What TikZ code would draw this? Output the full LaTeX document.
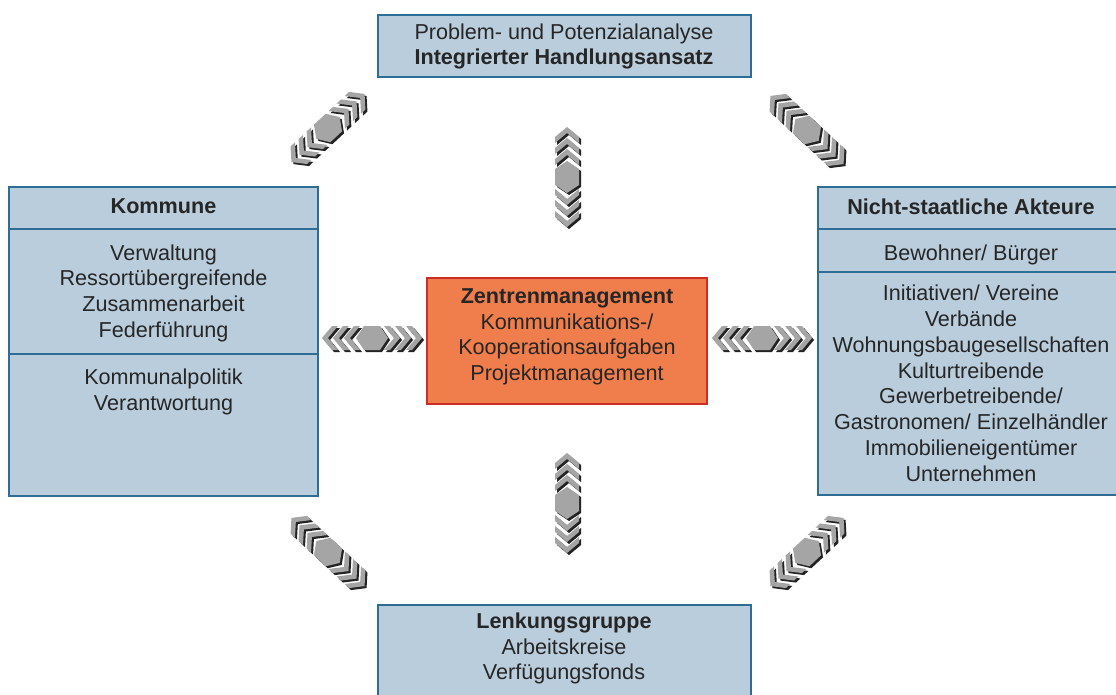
\documentclass[tikz,border=0pt]{standalone}
\usepackage{fontspec}
\setmainfont{Liberation Sans}
\usetikzlibrary{calc}
\definecolor{boxfill}{RGB}{186,205,220}
\definecolor{boxborder}{RGB}{46,110,150}
\definecolor{zmfill}{RGB}{240,126,76}
\definecolor{zmborder}{RGB}{205,45,35}
\definecolor{textgray}{RGB}{38,38,38}
\definecolor{linkgray}{RGB}{165,165,165}
\definecolor{linkshadow}{RGB}{35,35,35}
\tikzset{
  bluebox/.style={rectangle, draw=boxborder, fill=boxfill, line width=2pt, inner sep=0pt},
  zmbox/.style={rectangle, draw=zmborder, fill=zmfill, line width=2pt, inner sep=0pt},
  divider/.style={draw=boxborder, line width=2pt},
  txt/.style={font=\fontsize{21.6}{25.8}\selectfont, text=textgray, inner sep=0pt, anchor=base},
  btxt/.style={txt, font=\fontsize{21.6}{25.8}\selectfont\bfseries}
}
\newcommand\linkpath{%
  \fill (-16,0) -- (-8,12) -- (8,12) -- (16,0) -- (8,-12) -- (-8,-12) -- cycle;
  \foreach \p in {12,23,34} {
    \fill (\p,12) -- (\p+6,12) -- (\p+16,0) -- (\p+6,-12) -- (\p,-12) -- (\p+10,0) -- cycle;
    \fill (-\p,12) -- (-\p-6,12) -- (-\p-16,0) -- (-\p-6,-12) -- (-\p,-12) -- (-\p-10,0) -- cycle;
  }}
\newcommand\linkgroup[3]{%
  \begin{scope}[shift={(#1+2,#2+2)},rotate=#3,fill=linkshadow]\linkpath\end{scope}
  \begin{scope}[shift={(#1,#2)},rotate=#3,fill=linkgray]\linkpath\end{scope}}
\begin{document}
\begin{tikzpicture}[x=1pt,y=-1pt]
\useasboundingbox (0,0) rectangle (1116,695);
\fill[white] (0,0) rectangle (1116,695);

% boxes
\node[bluebox, minimum width=373, minimum height=62] (top) at (564,46) {};
\node[bluebox, minimum width=309, minimum height=309] (kommune) at (163.5,341.5) {};
\node[bluebox, minimum width=306, minimum height=308] (akteure) at (971,341) {};
\node[bluebox, minimum width=373, minimum height=115] (lenkung) at (564,662.5) {};
\node[zmbox, minimum width=280, minimum height=126] (zm) at (567,341) {};

% dividers
\draw[divider] (kommune.west |- 0,229) -- (kommune.east |- 0,229);
\draw[divider] (kommune.west |- 0,354) -- (kommune.east |- 0,354);
\draw[divider] (akteure.west |- 0,229) -- (akteure.east |- 0,229);
\draw[divider] (akteure.west |- 0,272) -- (akteure.east |- 0,272);

% texts: top
\node[txt] (t1) at (564,40) {Problem- und Potenzialanalyse};
\node[btxt] (t2) at (564,65) {Integrierter Handlungsansatz};

% Kommune
\node[btxt] (k0) at (163.5,214) {Kommune};
\foreach \t [count=\i from 0] in {Verwaltung,Ressortübergreifende,Zusammenarbeit,Federführung}
  \node[txt] (k1\i) at (163.5,260+25.8*\i) {\t};
\node[txt] (k20) at (163.5,384) {Kommunalpolitik};
\node[txt] (k21) at (163.5,410) {Verantwortung};

% Akteure
\node[btxt] (a0) at (971,214.3) {Nicht-staatliche Akteure};
\node[txt] (a1) at (971,260) {Bewohner/ Bürger};
\foreach \t [count=\i from 0] in {Initiativen/ Vereine,Verbände,Wohnungsbaugesellschaften,Kulturtreibende,Gewerbetreibende/,Gastronomen/ Einzelhändler,Immobilieneigentümer,Unternehmen}
  \node[txt] (a2\i) at (971,300.7+25.8*\i) {\t};

% Zentrenmanagement
\node[btxt] (z0) at (567,303.3) {Zentrenmanagement};
\foreach \t [count=\i from 0] in {Kommunikations-/,Kooperationsaufgaben,Projektmanagement}
  \node[txt] (z1\i) at (567,329.1+25.8*\i) {\t};

% Lenkungsgruppe
\node[btxt] (l0) at (564,628.3) {Lenkungsgruppe};
\node[txt] (l1) at (564,654.1) {Arbeitskreise};
\node[txt] (l2) at (564,679.9) {Verfügungsfonds};

% link groups
\linkgroup{567}{177}{90}
\linkgroup{567}{503}{90}
\linkgroup{372}{338}{0}
\linkgroup{762}{338}{0}
\linkgroup{328}{128}{43}
\linkgroup{807}{130}{-43}
\linkgroup{328}{552}{-43}
\linkgroup{807}{552}{43}
\end{tikzpicture}
\end{document}
